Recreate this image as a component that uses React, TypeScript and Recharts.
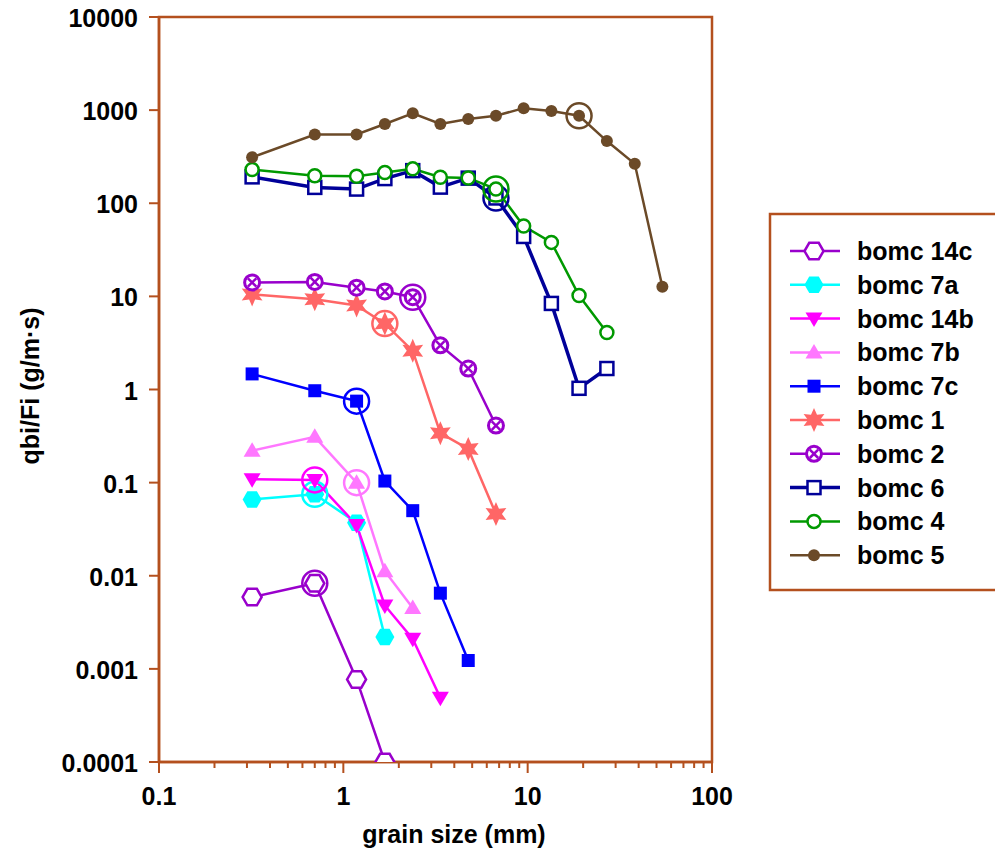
import React from 'react'
import { LineChart, Line, XAxis, YAxis, ReferenceArea, Label } from 'recharts'

// grain size classes (mm), shared by all runs
const grain = [0.32, 0.7, 1.18, 1.68, 2.38, 3.36, 4.76, 6.73, 9.51, 13.45, 19.0, 26.9, 38.1, 53.8]

const bomc14c = [0.0059, 0.0083, 0.00077, 0.0001]
const bomc7a = [0.066, 0.075, 0.037, 0.0022]
const bomc14b = [0.109, 0.107, 0.035, 0.0048, 0.0021, 0.00049]
const bomc7b = [0.22, 0.31, 0.1, 0.0112, 0.0045]
const bomc7c = [1.47, 0.97, 0.75, 0.104, 0.05, 0.0065, 0.00123]
const bomc1 = [10.5, 9.3, 8.0, 5.1, 2.6, 0.34, 0.23, 0.046]
const bomc2 = [14.1, 14.3, 12.4, 11.3, 9.8, 2.98, 1.68, 0.41]
const bomc6 = [192, 148, 142, 184, 224, 149, 186, 114, 44, 8.4, 1.03, 1.68]
const bomc4 = [230, 197, 195, 214, 234, 190, 187, 142, 57, 38, 10.2, 4.1]
const bomc5 = [312, 548, 548, 710, 925, 710, 805, 870, 1050, 980, 870, 465, 265, 12.7]

const xTicks = [0.1, 0.2, 0.3, 0.4, 0.5, 0.6, 0.7, 0.8, 0.9, 1, 2, 3, 4, 5, 6, 7, 8, 9,
  10, 20, 30, 40, 50, 60, 70, 80, 90, 100]
const yTicks = [0.0001, 0.001, 0.01, 0.1, 1, 10, 100, 1000, 10000]

const FRAME = '#b4501e'
const FONT = '"Liberation Sans", Arial, Helvetica, sans-serif'

type Kind = 'hexOpen' | 'hexFill' | 'triDown' | 'triUp' | 'sqFill' | 'star' | 'circX' | 'sqOpen' | 'circOpen' | 'circFill'

const series: { name: string; values: number[]; color: string; kind: Kind; ring: number; width?: number }[] = [
  { name: 'bomc 14c', values: bomc14c, color: '#9900cc', kind: 'hexOpen', ring: 1 },
  { name: 'bomc 7a', values: bomc7a, color: '#00ffff', kind: 'hexFill', ring: 1 },
  { name: 'bomc 14b', values: bomc14b, color: '#ff00ff', kind: 'triDown', ring: 1 },
  { name: 'bomc 7b', values: bomc7b, color: '#ff77ff', kind: 'triUp', ring: 2 },
  { name: 'bomc 7c', values: bomc7c, color: '#0000ff', kind: 'sqFill', ring: 2 },
  { name: 'bomc 1', values: bomc1, color: '#ff6666', kind: 'star', ring: 3 },
  { name: 'bomc 2', values: bomc2, color: '#9900cc', kind: 'circX', ring: 4 },
  { name: 'bomc 6', values: bomc6, color: '#000099', kind: 'sqOpen', ring: 7, width: 3.5 },
  { name: 'bomc 4', values: bomc4, color: '#009900', kind: 'circOpen', ring: 7 },
  { name: 'bomc 5', values: bomc5, color: '#6b4a28', kind: 'circFill', ring: 10 },
]

function hexPoints(cx: number, cy: number, r: number) {
  const pts: string[] = []
  for (let i = 0; i < 6; i++) {
    const a = (Math.PI / 3) * i
    pts.push(`${cx + r * Math.cos(a)},${cy + r * Math.sin(a)}`)
  }
  return pts.join(' ')
}

function starPoints(cx: number, cy: number, ro: number, ri: number) {
  const pts: string[] = []
  for (let i = 0; i < 12; i++) {
    const a = -Math.PI / 2 + (Math.PI / 6) * i
    const r = i % 2 === 0 ? ro : ri
    pts.push(`${cx + r * Math.cos(a)},${cy + r * Math.sin(a)}`)
  }
  return pts.join(' ')
}

function Marker({ kind, cx, cy, color }: { kind: Kind; cx: number; cy: number; color: string }) {
  switch (kind) {
    case 'hexOpen':
      return <polygon points={hexPoints(cx, cy, 9.5)} fill="#fff" stroke={color} strokeWidth={2.5} />
    case 'hexFill':
      return <polygon points={hexPoints(cx, cy, 9.5)} fill={color} />
    case 'triDown':
      return <polygon points={`${cx - 8.5},${cy - 6} ${cx + 8.5},${cy - 6} ${cx},${cy + 8.5}`} fill={color} />
    case 'triUp':
      return <polygon points={`${cx - 8.5},${cy + 6} ${cx + 8.5},${cy + 6} ${cx},${cy - 8.5}`} fill={color} />
    case 'sqFill':
      return <rect x={cx - 6.5} y={cy - 6.5} width={13} height={13} fill={color} />
    case 'star':
      return <polygon points={starPoints(cx, cy, 12, 6)} fill={color} />
    case 'circX':
      return (
        <g>
          <circle cx={cx} cy={cy} r={7.5} fill="#fff" stroke={color} strokeWidth={3} />
          <line x1={cx - 4.2} y1={cy - 4.2} x2={cx + 4.2} y2={cy + 4.2} stroke={color} strokeWidth={2.5} />
          <line x1={cx - 4.2} y1={cy + 4.2} x2={cx + 4.2} y2={cy - 4.2} stroke={color} strokeWidth={2.5} />
        </g>
      )
    case 'sqOpen':
      return <rect x={cx - 6.5} y={cy - 6.5} width={13} height={13} fill="#fff" stroke={color} strokeWidth={2.5} />
    case 'circOpen':
      return <circle cx={cx} cy={cy} r={6.5} fill="#fff" stroke={color} strokeWidth={2.5} />
    default:
      return <circle cx={cx} cy={cy} r={6} fill={color} />
  }
}

function makeDot(kind: Kind, color: string, ring: number) {
  return (props: any) => {
    const { cx, cy, index } = props
    if (cx == null || cy == null) return <g key={`d-${index}`} />
    return (
      <g key={`d-${index}`}>
        <Marker kind={kind} cx={cx} cy={cy} color={color} />
        {index === ring && <circle cx={cx} cy={cy} r={12.5} fill="none" stroke={color} strokeWidth={2.5} />}
      </g>
    )
  }
}

function isMajor(v: number) {
  const l = Math.log10(v)
  return Math.abs(l - Math.round(l)) < 1e-6
}

function XTick(props: any) {
  const { x, y, payload } = props
  const major = isMajor(payload.value)
  return (
    <g>
      <line x1={x} y1={y} x2={x} y2={y + (major ? 11 : 6)} stroke={FRAME} strokeWidth={2} />
      {major && (
        <text x={x} y={y + 34} textAnchor="middle" dominantBaseline="central"
          fontFamily={FONT} fontWeight="bold" fontSize={25} fill="#000">
          {String(payload.value)}
        </text>
      )}
    </g>
  )
}

function YTick(props: any) {
  const { x, y, payload } = props
  return (
    <g>
      <line x1={x - 10} y1={y} x2={x} y2={y} stroke={FRAME} strokeWidth={2} />
      <text x={x - 21} y={y + 1} textAnchor="end" dominantBaseline="central"
        fontFamily={FONT} fontWeight="bold" fontSize={25} fill="#000">
        {String(payload.value)}
      </text>
    </g>
  )
}

function LegendBox() {
  return (
    <svg width={995} height={853} style={{ position: 'absolute', left: 0, top: 0, pointerEvents: 'none' }}>
      <rect x={770} y={214} width={240} height={376} fill="#fff" stroke={FRAME} strokeWidth={2.5} />
      {series.map((s, i) => {
        const cy = 251 + i * 33.8
        return (
          <g key={s.name}>
            <line x1={790} y1={cy} x2={840} y2={cy} stroke={s.color} strokeWidth={s.width ?? 2.5} />
            <Marker kind={s.kind} cx={814} cy={cy} color={s.color} />
            <text x={857} y={cy} dominantBaseline="central" fontFamily={FONT} fontWeight="bold"
              fontSize={25} fill="#000">{s.name}</text>
          </g>
        )
      })}
    </svg>
  )
}

export default function App() {
  return (
    <div style={{ position: 'absolute', left: 0, top: 0, width: 995, height: 853, background: '#fff' }}>
      <LineChart width={995} height={853} margin={{ top: 17, right: 283, bottom: 0, left: 0 }}>
        <XAxis
          type="number"
          dataKey="x"
          scale="log"
          domain={[0.1, 100]}
          allowDataOverflow
          ticks={xTicks}
          interval={0}
          height={91}
          tickSize={0}
          tickMargin={0}
          tickLine={false}
          axisLine={{ stroke: FRAME, strokeWidth: 2.5 }}
          tick={<XTick />}
        >
          <Label
            content={() => (
              <text x={454} y={843} textAnchor="middle" fontFamily={FONT} fontWeight="bold"
                fontSize={25} fill="#000">grain size (mm)</text>
            )}
          />
        </XAxis>
        <YAxis
          type="number"
          dataKey="y"
          scale="log"
          domain={[0.0001, 10000]}
          allowDataOverflow
          ticks={yTicks}
          interval={0}
          width={159}
          tickSize={0}
          tickMargin={0}
          tickLine={false}
          axisLine={{ stroke: FRAME, strokeWidth: 2.5 }}
          tick={<YTick />}
        >
          <Label
            content={() => (
              <text x={30} y={386} transform="rotate(-90 30 386)" textAnchor="middle"
                dominantBaseline="central" fontFamily={FONT} fontWeight="bold" fontSize={25}
                fill="#000">qbi/Fi (g/m·s)</text>
            )}
          />
        </YAxis>
        <ReferenceArea x1={0.1} x2={100} y1={0.0001} y2={10000} fill="none" stroke={FRAME}
          strokeWidth={2.5} ifOverflow="visible" />
        {series.map(s => (
          <Line
            key={s.name}
            name={s.name}
            data={s.values.map((v, i) => ({ x: grain[i], y: v }))}
            dataKey="y"
            stroke={s.color}
            strokeWidth={s.width ?? 2.5}
            dot={makeDot(s.kind, s.color, s.ring)}
            activeDot={false}
            isAnimationActive={false}
          />
        ))}
      </LineChart>
      <LegendBox />
    </div>
  )
}
